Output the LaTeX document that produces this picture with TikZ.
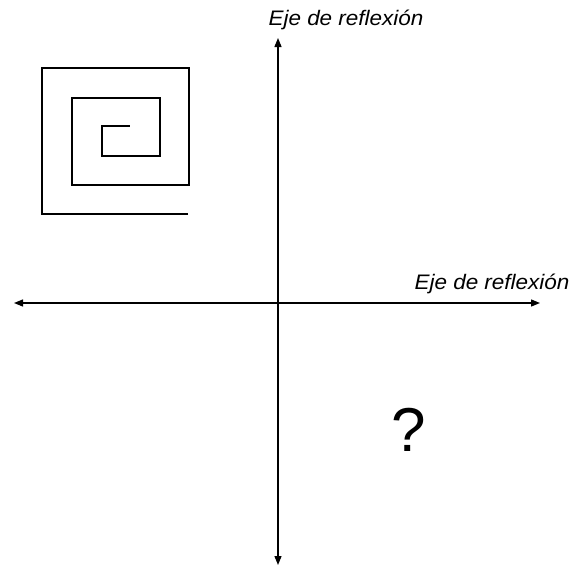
\documentclass[tikz,border=0pt]{standalone}
\usepackage{fontspec}
\setmainfont{Liberation Sans}
\newfontfamily\axisfont[FakeStretch=1.07]{Liberation Sans}
\usetikzlibrary{arrows.meta, positioning}

\begin{document}
\begin{tikzpicture}[
    x=1pt, y=-1pt,
    axis/.style={{Triangle[length=9pt,width=7pt]}-{Triangle[length=9pt,width=7pt]}, line width=1.3pt},
    spiral/.style={line width=2pt, line join=miter},
    lbl/.style={inner sep=0pt, anchor=base, font=\axisfont\itshape\fontsize{21}{24}\selectfont}
  ]
    \useasboundingbox (0,0) rectangle (572,568);
    % axes
    \coordinate (vtop) at (278,38);
    \coordinate (vbot) at (278,565);
    \coordinate (hleft) at (14,303);
    \coordinate (hright) at (540,303);
    \draw[axis] (vbot) -- (vtop);
    \draw[axis] (hleft) -- (hright);
    \node[lbl] (vlabel) at (346,25) {Eje de reflexión};
    \node[lbl] (hlabel) at (492,289) {Eje de reflexión};
    % square spiral
    \draw[spiral] (188,214) -- (42,214) -- (42,68) -- (189,68) -- (189,185)
      -- (72,185) -- (72,98) -- (160,98) -- (160,156) -- (102,156)
      -- (102,126) -- (130,126);
    \node[inner sep=0pt, anchor=base, font=\fontsize{62}{66}\selectfont] (ask) at (409,451) {?};
  \end{tikzpicture}
\end{document}
